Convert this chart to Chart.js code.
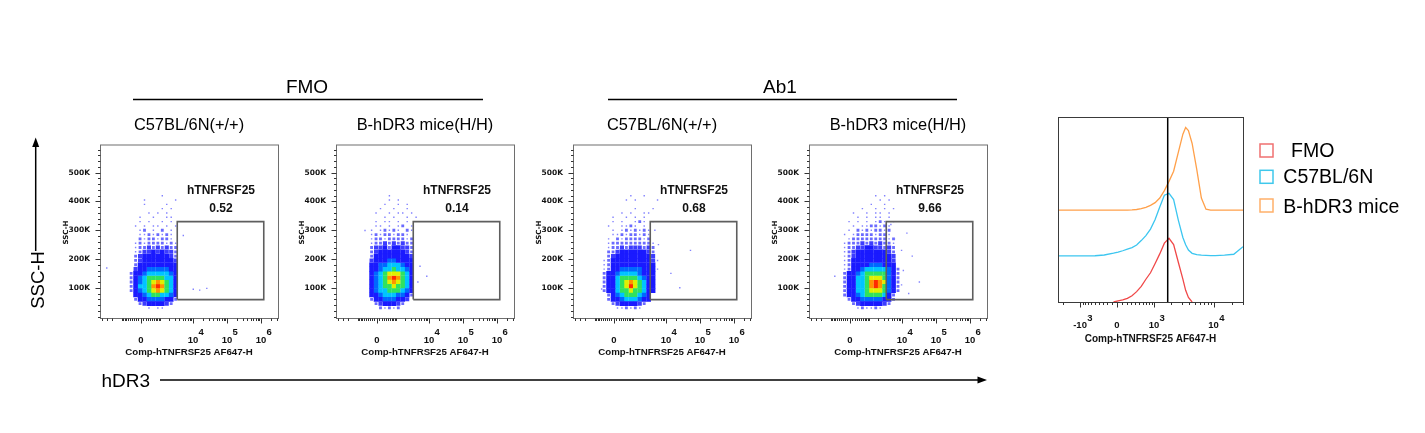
<!DOCTYPE html>
<html>
<head>
<meta charset="utf-8">
<title>hTNFRSF25 staining — FMO vs Ab1</title>
<script src="https://cdn.jsdelivr.net/npm/chart.js@4.4.1/dist/chart.umd.min.js"></script>
<style>
  html, body { margin: 0; padding: 0; background: #fff; }
  body { width: 1425px; height: 433px; position: relative; overflow: hidden; }
  canvas { position: absolute; }
  svg { position: absolute; left: 0; top: 0; pointer-events: none; }
</style>
</head>
<body>
<canvas id="p1" width="230" height="240" style="left:55px;top:130px"></canvas>
<canvas id="p2" width="230" height="240" style="left:291px;top:130px"></canvas>
<canvas id="p3" width="230" height="240" style="left:528px;top:130px"></canvas>
<canvas id="p4" width="230" height="240" style="left:764px;top:130px"></canvas>
<canvas id="hist" width="200" height="240" style="left:1048px;top:110px"></canvas>

<svg width="1425" height="433" font-family="'Liberation Sans', Arial, sans-serif" fill="#000">
  <text x="307" y="93" font-size="19" text-anchor="middle">FMO</text>
  <line x1="133" y1="99.5" x2="483" y2="99.5" stroke="#000" stroke-width="1.5"/>
  <text x="780" y="93" font-size="19" text-anchor="middle">Ab1</text>
  <line x1="608" y1="99.5" x2="957" y2="99.5" stroke="#000" stroke-width="1.5"/>

  <text x="189" y="130" font-size="16.4" text-anchor="middle">C57BL/6N(+/+)</text>
  <text x="425" y="130" font-size="16.4" text-anchor="middle">B-hDR3 mice(H/H)</text>
  <text x="662" y="130" font-size="16.4" text-anchor="middle">C57BL/6N(+/+)</text>
  <text x="898" y="130" font-size="16.4" text-anchor="middle">B-hDR3 mice(H/H)</text>

  <text transform="translate(43.5,280) rotate(-90)" font-size="18.5" text-anchor="middle">SSC-H</text>
  <line x1="35.7" y1="251" x2="35.7" y2="146" stroke="#000" stroke-width="1.5"/>
  <polygon points="35.7,137.5 32.2,147 39.2,147"/>

  <text x="101.5" y="386.7" font-size="19">hDR3</text>
  <line x1="160" y1="380" x2="979" y2="380" stroke="#000" stroke-width="1.5"/>
  <polygon points="987,380 977.5,376.5 977.5,383.5"/>

  <rect x="1260" y="144" width="13" height="13" fill="none" stroke="#f07070" stroke-width="1.5"/>
  <text x="1291" y="157.3" font-size="19.5">FMO</text>
  <rect x="1260" y="170.3" width="13" height="13" fill="none" stroke="#3fc8ec" stroke-width="1.5"/>
  <text x="1283.3" y="183.3" font-size="19.5">C57BL/6N</text>
  <rect x="1260" y="199" width="13" height="13" fill="none" stroke="#ffb06a" stroke-width="1.5"/>
  <text x="1283.3" y="212.7" font-size="19.5">B-hDR3 mice</text>
</svg>

<script>
// ═══════════════════════════════════════════════════════
//  hTNFRSF25 (hDR3) staining — 4 dot plots + overlay histogram
// ═══════════════════════════════════════════════════════

// ── Biexponential display: real value -> display units (0..100) ──
const SCATTER_BIEX = { u0: 23,   a: 8.3,  c: 592 };
const HIST_BIEX    = { u0: 31.9, a: 14.4, c: 533 };
const biex = (v, p) => p.u0 + p.a * Math.asinh(v / p.c);

// ── Scatter axes ─────────────────────────────────────────
const SCATTER_X_MAJOR  = [0, 1e4, 1e5, 1e6];
const SCATTER_X_LABELS = [["0", ""], ["10", "4"], ["10", "5"], ["10", "6"]];
const SCATTER_X_MINOR  = [-4000, -3000, -2000, -1000, -900, -800, -700, -600, -500, -400, -300, -200, -100,
  100, 200, 300, 400, 500, 600, 700, 800, 900, 1000, 2000, 3000, 4000, 5000, 6000, 7000, 8000, 9000,
  2e4, 3e4, 4e4, 5e4, 6e4, 7e4, 8e4, 9e4, 2e5, 3e5, 4e5, 5e5, 6e5, 7e5, 8e5, 9e5, 2e6, 3e6];
const SCATTER_Y_MAJOR  = [100000, 200000, 300000, 400000, 500000];
const SCATTER_Y_LABELS = ["100K", "200K", "300K", "400K", "500K"];
const SCATTER_Y_MINOR  = [0, 20000, 40000, 60000, 80000, 120000, 140000, 160000, 180000, 220000, 240000,
  260000, 280000, 320000, 340000, 360000, 380000, 420000, 440000, 460000, 480000, 520000, 540000, 560000, 580000];

// ── Gate (same on every plot) ────────────────────────────
const GATE_X = [43.4, 92, 92, 43.4, 43.4];
const GATE_Y = [59000, 59000, 330000, 330000, 59000];
const GATE_NAME = "hTNFRSF25";
const GATE_PCT  = ["0.52", "0.14", "0.68", "9.66"];

// ── Density grid: columns (display units) x rows (SSC-H) ──
const GRID_X = [15, 17.5, 20, 22.5, 25, 27.5, 30, 32.5, 35, 37.5, 40, 42.5, 45, 47.5, 50];
const GRID_Y = [420000, 405000, 390000, 375000, 360000, 345000, 330000, 315000, 300000, 285000,
  270000, 255000, 240000, 225000, 210000, 195000, 180000, 165000, 150000, 135000,
  120000, 105000, 90000, 75000, 60000, 45000, 30000];

// . sparse  : scattered  m loose blue  b blue  B blue/cyan  c cyan  g green  y yellow  o orange  r red
const P1_DENSITY = [
  "        .      ",
  "    .      .   ",
  "    .    .     ",
  "        . .    ",
  "     . . .     ",
  "   .  .  ..    ",
  "   . .  . .    ",
  "  . . .. . .   ",
  "   .: . : .    ",
  "   ..:.:.:.    ",
  "   :.::.::.    ",
  "  .:.::::.:.   ",
  "  .::m:m:m::   ",
  "  .:mmbmbmm:   ",
  "  :mbbbbbbm:   ",
  "  :mbbbbbbbm   ",
  "  :bbbbbbbbb   ",
  "  mbbBBBBBbb   ",
  " :bbBcccccBb   ",
  " :bBcggggccb   ",
  " :bBcgyoygcb   ",
  " :bccgorogcb   ",
  " :bBcgyoygcb   ",
  "  bbBcggccBb   ",
  "  :bbBBBBbb:   ",
  "   :mbbbbm:    ",
  "     . ..      ",
];
const P2_DENSITY = [
  "      .        ",
  "      . .      ",
  "     .  . .    ",
  "    .  .  .    ",
  "   .  . .. .   ",
  "     . .  . .  ",
  "   . .. . .    ",
  "   .. . .: .   ",
  "  . .:.:. :.   ",
  "  .:.::.::.    ",
  "  .::.::::.:   ",
  "  .::m:m:m::   ",
  "  :mmb:bbmm:   ",
  "  :mbbbbbbm:   ",
  "  :bbbbbbbbm   ",
  "  mbbbBBbbbb   ",
  "  bbBBcccBbb   ",
  "  bbBccgccBb   ",
  "  bBcgyyygcb   ",
  "  bBcgorogcb   ",
  "  bBcgyoygcb   ",
  "  bBcggyggcb   ",
  "  bBccgggcBb   ",
  "  bbBcccBBb:   ",
  "  :bbBBBbbm    ",
  "   :mbbbm:     ",
  "    :.:.:      ",
];
const P3_DENSITY = [
  "       .  .    ",
  "      . .    . ",
  "               ",
  "        .   .  ",
  "     . .  ..   ",
  "   .  . . .    ",
  "   . .  .:. .  ",
  "  .  ..:. .    ",
  "   . .:.:.:.   ",
  "   ..:.::.:.   ",
  "  . :.::::.:   ",
  "  .:::::::::.  ",
  "  .::m:mmm:m:  ",
  "  ::mbbbbbbm:  ",
  "  :mbbbbbbbbm  ",
  " .:bbbbbbbbbm. ",
  " .:bbbbbbbbbb  ",
  " .:bbBBBBBbbb. ",
  " :bbBccccBbbb  ",
  " :bbcggggcBbb  ",
  " :bbcgyoygcbb  ",
  " :bbcgyrygcbb  ",
  " :bbcggyggcbb  ",
  "  :bBcgggcBb   ",
  "  :bbBcccBbb   ",
  "   :mbbbbm:    ",
  "    ..:.:.     ",
];
const P4_DENSITY = [
  "         . .   ",
  "          . .  ",
  "        .  .   ",
  "      .  . . . ",
  "    .  . .. .  ",
  "     . . .. .  ",
  "   . . . .:. . ",
  "    . ..::.:.  ",
  "   . :.:.::.:  ",
  "  . .::::.::.  ",
  "   .::::::::.: ",
  "  .:::m:m:m::. ",
  "  .::mmbbmm:m: ",
  "  .:mbbbbbbbm: ",
  "  .:mbbbbbbbbm ",
  "  .:bbbbbbbbbm ",
  "  .:bbbbBBBbbb ",
  "  .:bbBcccccBb:",
  "  :bbBcgggggBb:",
  "  :bbccgyyygBb:",
  "  :bbccgoroyBb:",
  "  :bbccgorogBb:",
  "  :bbccgyyygBb:",
  "  :bbBcggggcb: ",
  "   :bbBBBBBbb: ",
  "    :mbbbbbm:  ",
  "     .:..:.    ",
];

// isolated events outside the grid [display units, SSC-H]
const P1_EXTRA = [[3.8, 169000], [46.8, 282000], [52.4, 95000], [56, 92000], [60, 98000]];
const P2_EXTRA = [[16.3, 299000], [47.2, 175000], [46, 120000], [51, 140000]];
const P3_EXTRA = [[16.1, 96000], [46, 300000], [48, 250000], [55, 150000], [60, 100000], [66, 230000]];
const P4_EXTRA = [[14.5, 140000], [46, 320000], [48, 270000], [52, 230000], [53, 160000], [55, 290000],
  [58, 210000], [62, 120000], [52, 110000], [56, 80000]];

const LEVELS = [
  { key: ".", color: "#8282ff", r: 1.0 },
  { key: ":", color: "#6a6aff", r: 2.0 },
  { key: "m", color: "#3c3cff", r: 2.9 },
  { key: "b", color: "#1a1aff", r: 3.3 },
  { key: "B", color: "#0068ff", r: 3.3 },
  { key: "c", color: "#00c4ff", r: 3.3 },
  { key: "g", color: "#2fe25e", r: 3.3 },
  { key: "y", color: "#dff000", r: 3.3 },
  { key: "o", color: "#ff9400", r: 3.3 },
  { key: "r", color: "#ff2a00", r: 3.3 },
];

// ── Histogram overlay (display units / normalised count) ──
const HIST_X = [0, 5, 10, 15, 20, 25, 30, 32.5, 35, 37.5, 40, 42.5, 45, 47.5, 50, 52.5, 55, 57.5,
  60, 62.5, 65, 67.5, 69, 70.5, 72.5, 75, 77.5, 80, 82.5, 85, 90, 95, 100];
const FMO_COUNTS = [null, null, null, null, null, null, 0, 0.6, 1.1, 2.0, 3.4, 5.6, 8.4, 12.3, 15.8, 20.8,
  26, 31.8, 34.4, 31, 21.6, 12.4, 6.3, 2.5, 0, null, null, null, null, null, null, null, null];
const C57_COUNTS = [0, 0, 0, 0, 0.1, 0.5, 1.5, 2.1, 2.8, 3.7, 4.5, 5.9, 8.3, 11, 14.5, 19.7,
  26.5, 32.8, 33.8, 30.5, 19.5, 10, 6, 3.2, 1.4, 0.7, 0.4, 0.3, 0.2, 0.2, 0.4, 0.9, 5];
const HDR3_COUNTS = [0, 0, 0, 0, 0, 0, 0, 0, 0, 0, 0.1, 0.3, 0.8, 1.5, 2.5, 4,
  6.5, 10.5, 15.5, 21, 31, 41, 44.6, 43, 36, 22, 6.5, 0.5, 0, 0, 0, 0, 0];
const HIST_SERIES  = ["FMO", "C57BL/6N", "B-hDR3 mice"];
const HIST_OFFSETS = [0, 24.9, 49.7];
const HIST_COLORS  = ["#f04848", "#3cc6f0", "#ffa04a"];
const CUTOFF_X     = 59.3;

const HIST_X_MAJOR  = [-1000, 0, 1000, 10000];
const HIST_X_LABELS = [["-10", "3"], ["0", ""], ["10", "3"], ["10", "4"]];
const HIST_X_MINOR  = [-2000, -900, -800, -700, -600, -500, -400, -300, -200, -100,
  100, 200, 300, 400, 500, 600, 700, 800, 900, 2000, 3000, 4000, 5000, 6000, 7000, 8000, 9000, 2e4, 3e4];

// ── Frame, ticks, biex labels and gate text ──────────────
const flowFrame = {
  id: "flowFrame",
  afterDraw(chart, args, o) {
    const { ctx, chartArea: a, scales } = chart;
    const sx = scales.x, sy = scales.y;
    ctx.save();
    ctx.strokeStyle = o.frame;
    ctx.lineWidth = 1;
    ctx.strokeRect(a.left + 0.5, a.top + 0.5, a.width, a.height);

    ctx.strokeStyle = "#333";
    ctx.beginPath();
    const xt = (u, len) => {
      if (u < sx.min || u > sx.max) return;
      const px = Math.round(sx.getPixelForValue(u)) + 0.5;
      ctx.moveTo(px, a.bottom + 0.5); ctx.lineTo(px, a.bottom + 0.5 + len);
    };
    o.xMinor.forEach(u => xt(u, 2.5));
    o.xMajor.forEach(u => xt(u, 5));
    if (o.yMajor) {
      const yt = (v, len) => {
        const py = Math.round(sy.getPixelForValue(v)) + 0.5;
        ctx.moveTo(a.left + 0.5, py); ctx.lineTo(a.left + 0.5 - len, py);
      };
      o.yMinor.forEach(v => yt(v, 2.5));
      o.yMajor.forEach(v => yt(v, 5));
    }
    ctx.stroke();

    ctx.fillStyle = "#111";
    ctx.textBaseline = "alphabetic";
    ctx.textAlign = "center";
    ctx.font = o.labelFont;
    o.xMajor.forEach((u, i) => {
      const [base, exp] = o.xLabels[i];
      const px = sx.getPixelForValue(u);
      ctx.fillText(base, px, a.bottom + o.baseDy);
      if (exp) ctx.fillText(exp, px + ctx.measureText(base).width / 2 + 3, a.bottom + o.expDy);
    });
    ctx.font = o.titleFont;
    ctx.fillText(o.title, (a.left + a.right) / 2, a.bottom + o.titleDy);

    if (o.yTitle) {
      ctx.save();
      ctx.font = "bold 7px 'DejaVu Sans'";
      ctx.translate(a.left - 32, a.top + 88);
      ctx.rotate(-Math.PI / 2);
      ctx.fillText(o.yTitle, 0, 0);
      ctx.restore();
    }
    if (o.gate) {
      ctx.font = "bold 12px 'Liberation Sans', Arial";
      const gx = sx.getPixelForValue(o.gate.x);
      ctx.fillText(o.gate.name, gx, sy.getPixelForValue(o.gate.yName) + 4.3);
      ctx.fillText(o.gate.pct,  gx, sy.getPixelForValue(o.gate.yPct) + 4.3);
    }
    ctx.restore();
  }
};

function densitySets(grid, extra) {
  return LEVELS.map(l => {
    const pts = [];
    grid.forEach((row, j) => {
      for (let i = 0; i < GRID_X.length; i++) if (row[i] === l.key) pts.push({ x: GRID_X[i], y: GRID_Y[j] });
    });
    if (l.key === ".") extra.forEach(([x, y]) => pts.push({ x, y }));
    return { data: pts, pointStyle: "rect", pointRadius: l.r, backgroundColor: l.color, borderWidth: 0, order: 1 };
  });
}

function renderDotPlot(id, grid, extra, pct) {
  const gate = {
    data: GATE_X.map((x, i) => ({ x, y: GATE_Y[i] })),
    showLine: true, borderColor: "#5e5e5e", borderWidth: 1.6, pointRadius: 0, fill: false, order: -1
  };
  new Chart(document.getElementById(id), {
    type: "scatter",
    data: { datasets: [gate, ...densitySets(grid, extra)] },
    options: {
      responsive: false, animation: false, events: [],
      layout: { padding: { top: 10, right: 7, bottom: 52, left: 0 } },
      scales: {
        x: { type: "linear", min: 0, max: 100, display: false },
        y: {
          type: "linear", min: -5000, max: 598000,
          afterBuildTicks: s => { s.ticks = SCATTER_Y_MAJOR.map(v => ({ value: v })); },
          afterFit: s => { s.width = 45; },
          grid: { display: false, drawTicks: false },
          border: { display: false },
          ticks: {
            padding: 10, color: "#111",
            font: { family: "DejaVu Sans", size: 7.5, weight: "bold" },
            callback: v => SCATTER_Y_LABELS[SCATTER_Y_MAJOR.indexOf(v)]
          }
        }
      },
      plugins: {
        legend: { display: false }, tooltip: { enabled: false },
        flowFrame: {
          frame: "#6e6e6e",
          xMajor: SCATTER_X_MAJOR.map(v => biex(v, SCATTER_BIEX)),
          xMinor: SCATTER_X_MINOR.map(v => biex(v, SCATTER_BIEX)),
          xLabels: SCATTER_X_LABELS,
          yMajor: SCATTER_Y_MAJOR, yMinor: SCATTER_Y_MINOR,
          labelFont: "bold 9.5px 'Liberation Sans', Arial",
          titleFont: "bold 9.7px 'Liberation Sans', Arial",
          title: "Comp-hTNFRSF25 AF647-H",
          baseDy: 25.4, expDy: 17, titleDy: 37,
          yTitle: "SSC-H",
          gate: { x: 68, yName: 442000, yPct: 378000, name: GATE_NAME, pct }
        }
      }
    },
    plugins: [flowFrame]
  });
}

function renderHistogram() {
  const series = [FMO_COUNTS, C57_COUNTS, HDR3_COUNTS].map((vals, k) => ({
    label: HIST_SERIES[k],
    data: HIST_X.map((x, i) => ({ x, y: vals[i] == null ? null : vals[i] + HIST_OFFSETS[k] })),
    showLine: true, borderColor: HIST_COLORS[k], borderWidth: 1.3, pointRadius: 0,
    tension: 0, spanGaps: false, order: 1
  }));
  const cutoff = {
    data: [{ x: CUTOFF_X, y: 0 }, { x: CUTOFF_X, y: 100 }],
    showLine: true, borderColor: "#000", borderWidth: 1.5, pointRadius: 0, order: -1
  };
  new Chart(document.getElementById("hist"), {
    type: "scatter",
    data: { datasets: [cutoff, ...series] },
    options: {
      responsive: false, animation: false, events: [],
      layout: { padding: { top: 7, right: 5, bottom: 48, left: 10 } },
      scales: {
        x: { type: "linear", min: 0, max: 100, display: false },
        y: { type: "linear", min: 0, max: 100, display: false }
      },
      plugins: {
        legend: { display: false }, tooltip: { enabled: false },
        flowFrame: {
          frame: "#3a3a3a",
          xMajor: HIST_X_MAJOR.map(v => biex(v, HIST_BIEX)),
          xMinor: HIST_X_MINOR.map(v => biex(v, HIST_BIEX)),
          xLabels: HIST_X_LABELS,
          labelFont: "bold 9.5px 'Liberation Sans', Arial",
          titleFont: "bold 10px 'Liberation Sans', Arial",
          title: "Comp-hTNFRSF25 AF647-H",
          baseDy: 26.4, expDy: 18.7, titleDy: 40.3
        }
      }
    },
    plugins: [flowFrame]
  });
}

renderDotPlot("p1", P1_DENSITY, P1_EXTRA, GATE_PCT[0]);
renderDotPlot("p2", P2_DENSITY, P2_EXTRA, GATE_PCT[1]);
renderDotPlot("p3", P3_DENSITY, P3_EXTRA, GATE_PCT[2]);
renderDotPlot("p4", P4_DENSITY, P4_EXTRA, GATE_PCT[3]);
renderHistogram();
</script>
</body>
</html>
